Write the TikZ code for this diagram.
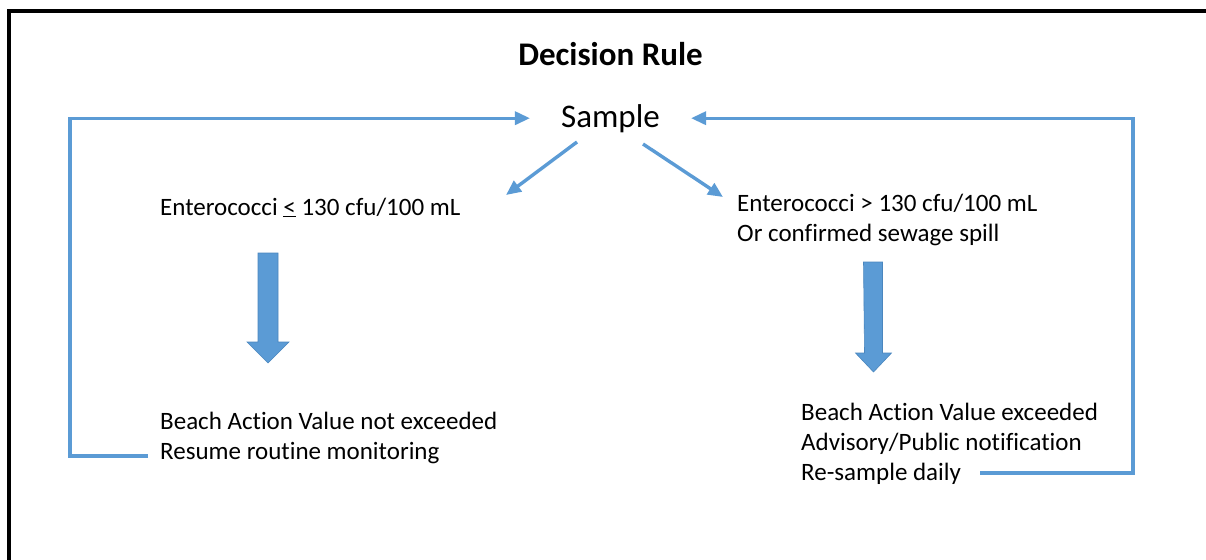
\documentclass[tikz,border=0pt]{standalone}
\usepackage{fontspec}
\setmainfont{Carlito}[Ligatures=NoCommon]
\usetikzlibrary{arrows.meta,positioning,calc}
\definecolor{flowblue}{HTML}{5B9BD5}
\definecolor{flowedge}{HTML}{4A86BE}

\begin{document}
\begin{tikzpicture}[x=1pt, y=-1pt,
  rule/.style={inner sep=0pt, anchor=base west, align=left, font=\fontsize{25}{30}\selectfont},
  arr/.style={-{Triangle[length=15pt,width=13pt]}, line width=3.4pt, flowblue},
  fatarrow/.style={fill=flowblue, draw=flowedge, line width=0.6pt}
]
  \useasboundingbox (0,0) rectangle (1206,559);
  % frame, cut at the right and bottom
  \draw[line width=3.2pt] (9,562) -- (9,11) -- (1210,11);

  \node[font=\bfseries\fontsize{33}{38}\selectfont, inner sep=0pt, anchor=base] (title) at (610.5,66) {Decision Rule};
  \node[font=\fontsize{33}{38}\selectfont, inner sep=0pt, anchor=base] (sample) at (610.5,128) {Sample};

  % the last line of a node sits on its anchor
  \node[rule] (low) at (160,215) {Enterococci \underline{<} 130 cfu/100 mL};
  \node[rule] (high) at (737,241.5) {Enterococci > 130 cfu/100 mL\\Or confirmed sewage spill};
  \node[rule] (lowact) at (160,459) {Beach Action Value not exceeded\\Resume routine monitoring};
  \node[rule] (highact) at (801,480) {Beach Action Value exceeded\\Advisory/Public notification\\Re-sample daily};

  \coordinate (splitL) at (577,142);
  \coordinate (splitR) at (643,144);
  \coordinate (lowin) at (506,195);
  \coordinate (highin) at (723,197);
  \draw[arr] (splitL) -- (lowin);
  \draw[arr] (splitR) -- (highin);

  % block arrows
  \coordinate (lowtop) at (268,253);
  \coordinate (hightop) at (873,262);
  \draw[fatarrow] (lowtop) ++(-10,0) -- ++(20,0) -- ++(0,89) -- ++(11,0) -- ++(-21,21) -- ++(-21,-21) -- ++(11,0) -- cycle;
  \draw[fatarrow] (hightop) ++(-9.5,0) -- ++(19,0) -- ++(0,91) -- ++(9,0) -- ++(-18,19) -- ++(-18,-19) -- ++(9,0) -- cycle;

  % loops back to the sample
  \coordinate (lowend) at (148,456);
  \coordinate (highend) at (980,473);
  \draw[arr] (lowend) -- ++(-78,0) |- ([xshift=-31pt, yshift=1pt]sample.west);
  \draw[arr] (highend) -- ++(153,0) |- ([xshift=31pt, yshift=1pt]sample.east);
\end{tikzpicture}
\end{document}
